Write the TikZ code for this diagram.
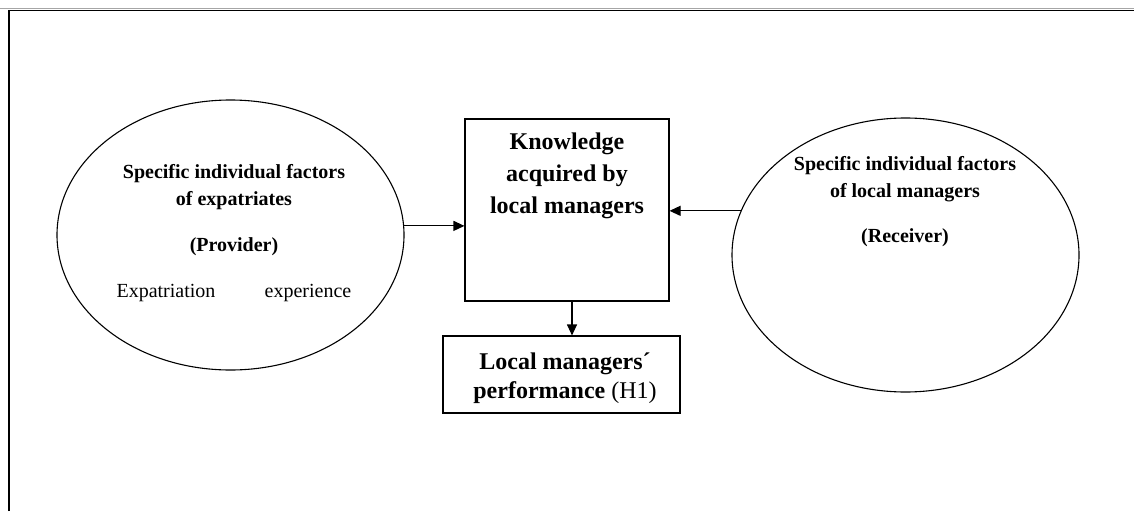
\documentclass[tikz,border=0pt]{standalone}
\usepackage{fontspec}
\setmainfont{Liberation Serif}
\usetikzlibrary{shapes.geometric,arrows.meta}
\begin{document}
\begin{tikzpicture}[x=1pt,y=-1pt,
  outline/.style={draw=black,line width=1.1pt,inner sep=0pt},
  oval/.style={outline,ellipse},
  boxnode/.style={outline,rectangle},
  arr/.style={line width=1.1pt,-{Triangle[length=11pt,width=10pt]}},
  small/.style={font=\fontsize{20}{27}\selectfont\bfseries,align=center,inner sep=0pt},
  smallreg/.style={font=\fontsize{20}{27}\selectfont,inner sep=0pt},
  big/.style={font=\fontsize{24}{32}\selectfont\bfseries,align=center,inner sep=0pt},
  perf/.style={font=\fontsize{24}{29}\selectfont\bfseries,align=center,inner sep=0pt}]
\useasboundingbox (0,0) rectangle (1134,511);
% frame
\draw[gray!70,line width=0.6pt] (0,8.3) -- (1134,8.3);
\draw[line width=1.4pt] (9,511) -- (9,10.5) -- (1134,10.5);
% shapes
\node[oval,minimum width=347pt,minimum height=270pt] (L) at (230.5,235) {};
\node[oval,minimum width=347pt,minimum height=274pt] (R) at (905.5,255) {};
\node[boxnode,minimum width=204pt,minimum height=182pt] (K) at (567,210) {};
\node[boxnode,minimum width=237pt,minimum height=77pt] (P) at (561.5,374.5) {};
% texts
\node[small] (Lt) at (234,187) {Specific individual factors\\of expatriates};
\node[small] (Lp) at (234,247) {(Provider)};
\node[smallreg] (Le1) at (166,293) {Expatriation};
\node[smallreg] (Le2) at (308,293) {experience};
\node[small] (Rt) at (905,179) {Specific individual factors\\of local managers};
\node[small] (Rr) at (905,238) {(Receiver)};
\node[big] (Kt) at (567,176) {Knowledge\\acquired by\\local managers};
\node[perf] (Pt) at (565,378) {Local managers´\\performance {\normalfont(H1)}};
% connectors
\draw[arr] (L.3.6) -- (L.3.6 -| K.west);
\draw[arr] (R.165.4) -- (R.165.4 -| K.east);
\draw[arr] ([xshift=5pt]K.south) -- ([xshift=5pt]K.south |- P.north);
\end{tikzpicture}
\end{document}
